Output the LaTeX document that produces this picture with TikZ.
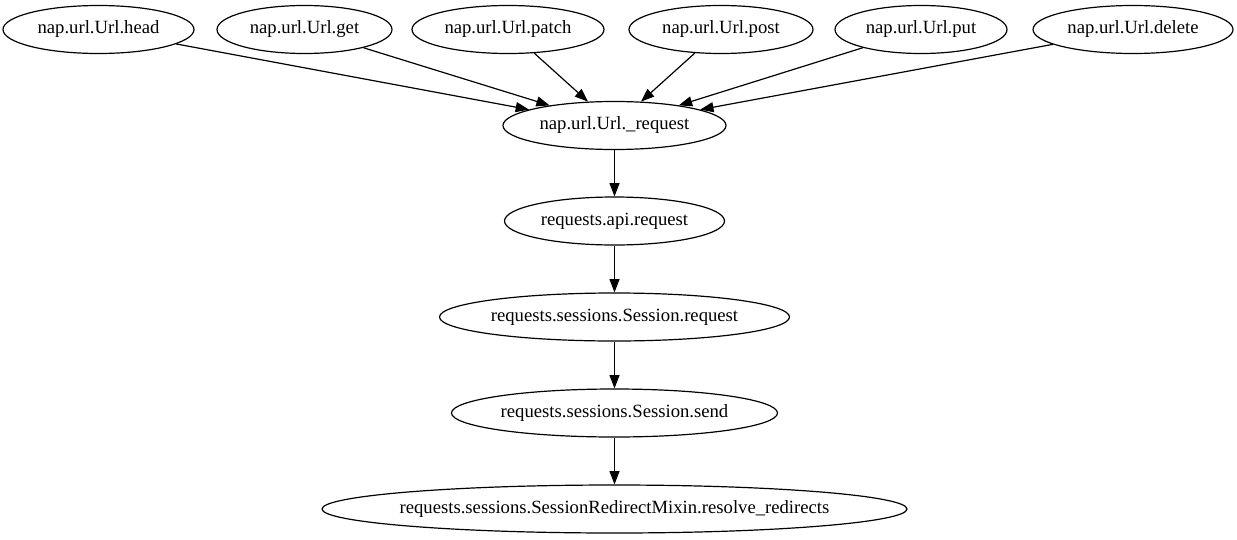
\documentclass[tikz,border=0pt]{standalone}
\usepackage{fontspec}
\setmainfont{Liberation Serif}
\usetikzlibrary{arrows.meta,shapes.geometric}
% label of zero width, so that the ellipse size is set by the style alone
\newcommand\lbl[1]{\makebox[0pt][c]{#1}}
\begin{document}
\begin{tikzpicture}[x=0.75pt,y=-0.75pt,
  fn/.style={draw=black,line width=0.9pt,ellipse,inner sep=0pt,
    minimum height=36pt,font=\fontsize{14pt}{16pt}\selectfont},
  call/.style={draw=black,line width=0.9pt,
    -{Triangle[length=10pt,width=7.5pt]}}]
\useasboundingbox (0,0) rectangle (1237,539);
% callers
\node[fn,minimum width=143.25pt] (head)   at (98.5,29.5) {\lbl{nap.url.Url.head}};
\node[fn,minimum width=131.25pt] (get)    at (304.5,29.5) {\lbl{nap.url.Url.get}};
\node[fn,minimum width=144pt]    (patch)  at (508,29.5) {\lbl{nap.url.Url.patch}};
\node[fn,minimum width=138pt]    (post)   at (721,29.5) {\lbl{nap.url.Url.post}};
\node[fn,minimum width=129pt]    (put)    at (921,29.5) {\lbl{nap.url.Url.put}};
\node[fn,minimum width=150pt]    (delete) at (1133,29.5) {\lbl{nap.url.Url.delete}};
% call chain
\node[fn,minimum width=167.25pt] (req)     at (614.5,125.5) {\lbl{nap.url.Url.\_request}};
\node[fn,minimum width=165pt]    (api)     at (614.5,221) {\lbl{requests.api.request}};
\node[fn,minimum width=262.5pt]  (sreq)    at (614.5,317) {\lbl{requests.sessions.Session.request}};
\node[fn,minimum width=244.5pt]  (send)    at (614.5,413) {\lbl{requests.sessions.Session.send}};
\node[fn,minimum width=438.75pt] (resolve) at (614.5,509) {\lbl{requests.sessions.SessionRedirectMixin.resolve\_redirects}};
% edges
\foreach \src in {head,get,patch,post,put,delete}
  \draw[call] (\src) -- (req);
\draw[call] (req) -- (api);
\draw[call] (api) -- (sreq);
\draw[call] (sreq) -- (send);
\draw[call] (send) -- (resolve);
\end{tikzpicture}
\end{document}
